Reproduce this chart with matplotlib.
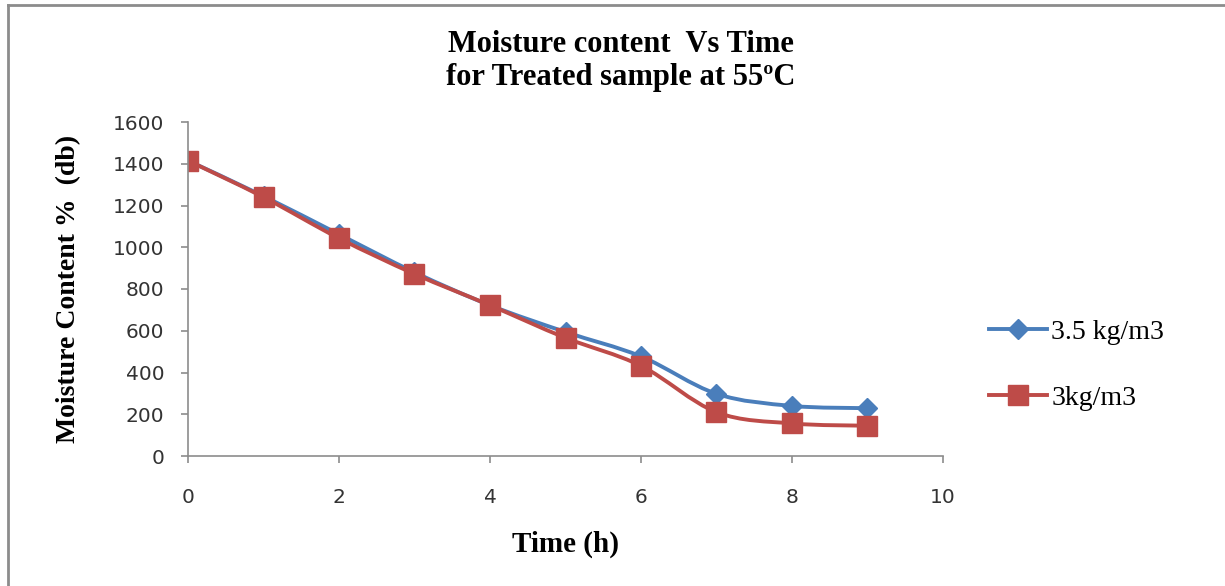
import numpy as np
import matplotlib
matplotlib.use("Agg")
import matplotlib.pyplot as plt
from matplotlib.path import Path
from matplotlib.patches import PathPatch
from matplotlib.lines import Line2D

# data
time_h = [0, 1, 2, 3, 4, 5, 6, 7, 8, 9]
mc_35 = [1415, 1245, 1062, 880, 722, 594, 477, 298, 240, 229]
mc_3 = [1415, 1240, 1043, 872, 722, 566, 432, 210, 156, 145]
labels = ["3.5 kg/m3", "3kg/m3"]
colors = ["#4A7EBB", "#BE4B48"]
markers = ["D", "s"]
msizes = [10, 14]

xticks = [0, 2, 4, 6, 8, 10]
yticks = [0, 200, 400, 600, 800, 1000, 1200, 1400, 1600]


def smooth_path(xs, ys):
    # excel style smoothed line: catmull-rom segments as cubic beziers
    p = np.column_stack([xs, ys]).astype(float)
    n = len(p)
    verts = [p[0]]
    codes = [Path.MOVETO]
    for i in range(n - 1):
        p0 = p[i - 1] if i > 0 else p[i]
        p3 = p[i + 2] if i + 2 < n else p[i + 1]
        c1 = p[i] + (p[i + 1] - p0) / 6.0
        c2 = p[i + 1] - (p3 - p[i]) / 6.0
        verts += [c1, c2, p[i + 1]]
        codes += [Path.CURVE4] * 3
    return Path(verts, codes)


fig = plt.figure(figsize=(12.25, 5.86), dpi=100)
ax = fig.add_axes([188 / 1225, 1 - 456 / 586, (943 - 188) / 1225, (456 - 122) / 586])

series = [mc_35, mc_3]
handles = []
for vals, c, m, ms, lab in zip(series, colors, markers, msizes, labels):
    patch = PathPatch(smooth_path(time_h, vals), facecolor="none", edgecolor=c,
                      lw=2.8, capstyle="round", joinstyle="round")
    ax.add_patch(patch)
    ax.plot(time_h, vals, linestyle="none", marker=m, color=c, markersize=ms)
    handles.append(Line2D([], [], color=c, lw=2.8, marker=m, markersize=ms, label=lab))

ax.set_xlim(0, 10)
ax.set_ylim(0, 1600)
ax.set_xticks(xticks)
ax.set_yticks(yticks)
for s in ["top", "right"]:
    ax.spines[s].set_visible(False)
for s in ["left", "bottom"]:
    ax.spines[s].set_color("#8c8c8c")
    ax.spines[s].set_linewidth(1.2)
ax.tick_params(axis="both", direction="out", length=5, width=1.2, color="#8c8c8c",
               labelsize=14.5, labelcolor="#333333")
ax.tick_params(axis="y", pad=12)
ax.tick_params(axis="x", pad=18)

ax.set_xlabel("Time (h)", fontfamily="Liberation Serif", fontweight="bold", fontsize=21)
ax.xaxis.set_label_coords((566 - 188) / (943 - 188), -(531 - 456) / (456 - 122))
ax.set_ylabel("Moisture Content %  (db)", fontfamily="Liberation Serif", fontweight="bold",
              fontsize=20)
ax.yaxis.set_label_coords(-(188 - 81) / (943 - 188), (456 - 289) / (456 - 122))

fig.text(621 / 1225, 1 - 61 / 586, "Moisture content  Vs Time\nfor Treated sample at 55ºC",
         ha="center", va="center", fontfamily="Liberation Serif", fontweight="bold",
         fontsize=22, linespacing=1.2)

fig.legend(handles=handles, loc="center left", bbox_to_anchor=(975 / 1225, 1 - 365 / 586),
           frameon=False, prop={"family": "Liberation Serif", "size": 20},
           handlelength=2.1, handletextpad=0.15, labelspacing=1.45, borderpad=0)

# outer chart border (only top and left visible in the crop)
fig.add_artist(Line2D([8 / 1225, 1], [1 - 5 / 586, 1 - 5 / 586], color="#8c8c8c", lw=2,
                      transform=fig.transFigure))
fig.add_artist(Line2D([8 / 1225, 8 / 1225], [0, 1 - 5 / 586], color="#8c8c8c", lw=2,
                      transform=fig.transFigure))

fig.savefig("out.png", dpi=100)
